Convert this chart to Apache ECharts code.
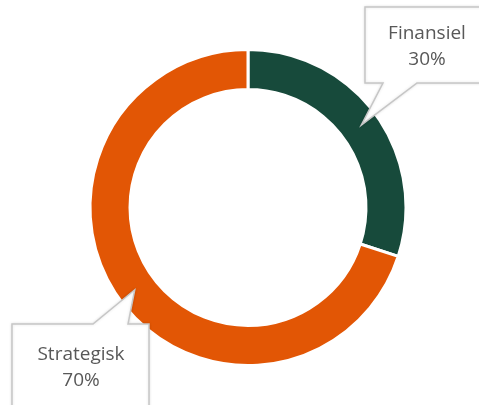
<!DOCTYPE html>
<html lang="da">
<head>
<meta charset="UTF-8">
<title>Finansiel / Strategisk</title>
<script src="https://cdn.jsdelivr.net/npm/echarts@6/dist/echarts.min.js"></script>
</head>
<body style="margin:0;background:#fff">
<div id="main" style="width:479px;height:405px;"></div>
<script>
var names = ['Finansiel', 'Strategisk'];
var values = [30, 70];
var colors = ['#174a3b', '#e25605'];

var cx = 248, cy = 207.5;
var chart = echarts.init(document.getElementById('main'));

// point in the middle of each slice (clockwise from the top), used as callout tip
var total = values.reduce(function (a, b) { return a + b; }, 0);
var tips = [];
var cum = 0;
for (var i = 0; i < values.length; i++) {
    var a = (cum + values[i] / 2) / total * 2 * Math.PI;
    tips.push([cx + 140 * Math.sin(a), cy - 140 * Math.cos(a)]);
    cum += values[i];
}

var boxStyle = { fill: '#fff', stroke: '#c6c6c6', lineWidth: 1.5, shadowBlur: 3, shadowColor: 'rgba(0,0,0,0.12)' };
var textFont = '19px "Open Sans", sans-serif';

chart.setOption({
    animation: false,
    series: [{
        type: 'pie',
        center: [cx, cy],
        radius: [118, 158],
        startAngle: 90,
        clockwise: true,
        label: { show: false },
        labelLine: { show: false },
        itemStyle: { borderColor: '#fff', borderWidth: 3 },
        data: names.map(function (n, i) {
            return { name: n, value: values[i], itemStyle: { color: colors[i] } };
        })
    }],
    graphic: [
        {
            type: 'polygon', z: 10,
            shape: { points: [[365, 7], [492, 7], [492, 83], [417, 83], tips[0], [383, 83], [365, 83]] },
            style: boxStyle
        },
        {
            type: 'text', z: 11, x: 427, y: 47,
            style: { text: names[0] + '\n' + values[0] + '%', font: textFont, fill: '#585858', align: 'center', verticalAlign: 'middle', lineHeight: 26 }
        },
        {
            type: 'polygon', z: 10,
            shape: { points: [[12, 324], [93, 324], tips[1], [128, 324], [149, 324], [149, 412], [12, 412]] },
            style: boxStyle
        },
        {
            type: 'text', z: 11, x: 81, y: 368,
            style: { text: names[1] + '\n' + values[1] + '%', font: textFont, fill: '#585858', align: 'center', verticalAlign: 'middle', lineHeight: 26 }
        }
    ]
});
</script>
</body>
</html>
